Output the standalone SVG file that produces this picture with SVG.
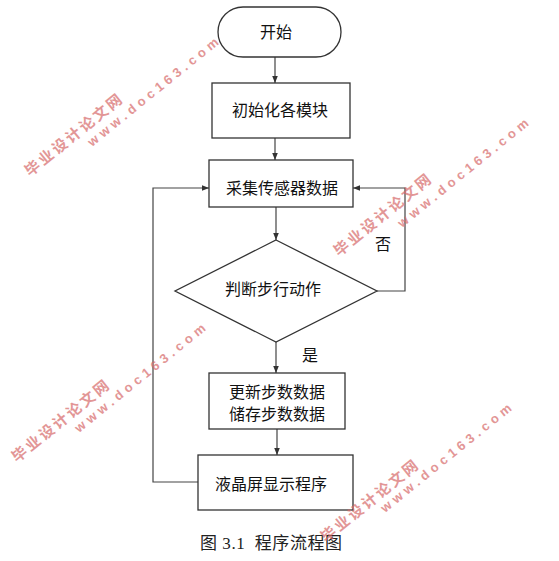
<svg xmlns="http://www.w3.org/2000/svg" width="559" height="561" viewBox="0 0 559 561">
<defs>
<marker id="arr" viewBox="0 0 8 8" refX="8" refY="4" markerWidth="7" markerHeight="7" markerUnits="userSpaceOnUse" orient="auto">
<path d="M0,0.8 L8,4 L0,7.2 z" fill="#333"/>
</marker>
</defs>
<style>
.shape{fill:#fff;stroke:#333;stroke-width:1.3}
.lbl{font-family:"Noto Sans CJK SC","Noto Sans",sans-serif;font-size:16px;fill:#111;text-anchor:middle}
.con{fill:none;stroke:#444;stroke-width:1.2;marker-end:url(#arr)}
.wm{font-family:"Liberation Sans","Noto Sans CJK SC",sans-serif;font-weight:bold;fill:#d76a6a;opacity:0.7}
.cap{font-family:"Liberation Serif","Noto Sans CJK SC",serif;font-size:17px;fill:#222;white-space:pre}
</style>
<rect width="559" height="561" fill="#fff"/>
<g id="connectors">
<line class="con" x1="275" y1="57" x2="275" y2="83"/>
<line class="con" x1="275" y1="138" x2="275" y2="160"/>
<line class="con" x1="276" y1="207" x2="276" y2="240"/>
<line class="con" x1="276" y1="342" x2="276" y2="373"/>
<line class="con" x1="277" y1="429" x2="277" y2="455"/>
<polyline class="con" points="377,291 405,291 405,188 353,188"/>
<polyline class="con" points="198,482 153,482 153,188 209,188"/>
<text class="lbl" x="383" y="250">否</text>
<text class="lbl" x="310" y="361">是</text>
</g>
<g id="start">
<rect class="shape" x="218" y="7" width="123" height="50" rx="25" ry="25"/>
<text class="lbl" x="276" y="38">开始</text>
</g>
<g id="init">
<rect class="shape" x="212" y="83" width="138" height="55"/>
<text class="lbl" x="280" y="116">初始化各模块</text>
</g>
<g id="collect">
<rect class="shape" x="209" y="160" width="144" height="47"/>
<text class="lbl" x="282" y="194">采集传感器数据</text>
</g>
<g id="judge">
<polygon class="shape" points="276,240 377,291 276,342 175,291"/>
<text class="lbl" x="273" y="295">判断步行动作</text>
</g>
<g id="update">
<rect class="shape" x="209" y="373" width="136" height="56"/>
<text class="lbl" x="277" y="398">更新步数数据</text>
<text class="lbl" x="277" y="420">储存步数数据</text>
</g>
<g id="lcd">
<rect class="shape" x="198" y="455" width="155" height="55"/>
<text class="lbl" x="271" y="490">液晶屏显示程序</text>
</g>
<text class="cap" x="200" y="549" xml:space="preserve" textLength="142" lengthAdjust="spacing">图 3.1  程序流程图</text>
<g id="watermarks">
<text class="wm" font-size="15" transform="translate(30,177) rotate(-39)" textLength="120" lengthAdjust="spacing">毕业设计论文网</text>
<text class="wm" font-size="13" transform="translate(92,147) rotate(-39)" textLength="164" lengthAdjust="spacing">www.doc163.com</text>
<text class="wm" font-size="15" transform="translate(339,257) rotate(-39)" textLength="120" lengthAdjust="spacing">毕业设计论文网</text>
<text class="wm" font-size="13" transform="translate(402,228) rotate(-39)" textLength="164" lengthAdjust="spacing">www.doc163.com</text>
<text class="wm" font-size="15" transform="translate(17,463) rotate(-39)" textLength="120" lengthAdjust="spacing">毕业设计论文网</text>
<text class="wm" font-size="13" transform="translate(79,433) rotate(-39)" textLength="164" lengthAdjust="spacing">www.doc163.com</text>
<text class="wm" font-size="15" transform="translate(326,543) rotate(-39)" textLength="120" lengthAdjust="spacing">毕业设计论文网</text>
<text class="wm" font-size="13" transform="translate(385,513) rotate(-39)" textLength="164" lengthAdjust="spacing">www.doc163.com</text>
</g>
</svg>
